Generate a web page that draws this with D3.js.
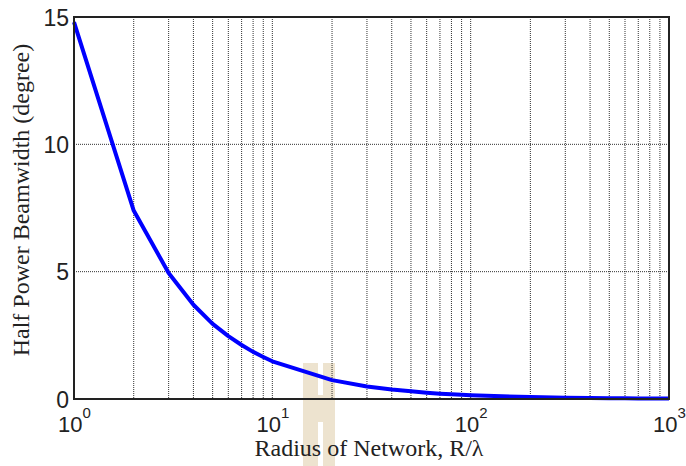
<!DOCTYPE html>
<html><head><meta charset="utf-8">
<script src="https://cdn.jsdelivr.net/npm/d3@7/dist/d3.min.js"></script>
<style>body{margin:0;background:#fff}svg{display:block}
.sans{font-family:"Liberation Sans",Arial,sans-serif}
.serif{font-family:"Liberation Serif","Times New Roman",serif}
</style>
</head><body><svg id="c" width="686" height="466"></svg>
<script>
const radius = [1,2,3,4,5,6,7,8,9,10,20,30,40,50,60,70,80,90,100,200,300,400,500,600,700,800,900,1000];
const beamwidth = [14.8,7.4,4.95,3.7,2.95,2.47,2.12,1.85,1.65,1.48,0.74,0.49,0.37,0.30,0.25,0.21,0.185,0.165,0.148,0.074,0.049,0.037,0.03,0.025,0.021,0.018,0.016,0.015];
const yTicks = [0,5,10,15];
const xTickExps = [0,1,2,3];
const xLabel = "Radius of Network, R/λ";
const yLabel = "Half Power Beamwidth (degree)";

const svg = d3.select("#c");
const L=74, R=669, T=17, B=399;
const x = d3.scaleLog().domain([1,1000]).range([L,R]);
const y = d3.scaleLinear().domain([0,15]).range([B,T]);

// watermark
const wm = svg.append("g").attr("fill","#ede3cf");
wm.append("rect").attr("x",303).attr("y",363).attr("width",15).attr("height",103);
wm.append("rect").attr("x",323).attr("y",363).attr("width",12).attr("height",103);
wm.append("rect").attr("x",303).attr("y",395).attr("width",32).attr("height",27);

// vertical grid
const minor = [];
for (let e=0;e<3;e++) for (let m=1;m<10;m++) minor.push(m*Math.pow(10,e));
svg.append("g").selectAll("line").data(minor.filter(v=>v>1)).join("line")
  .attr("x1",d=>x(d)).attr("x2",d=>x(d)).attr("y1",T).attr("y2",B)
  .attr("stroke","#000").attr("stroke-width",1).attr("stroke-dasharray","1,1").attr("opacity",0.8);
// horizontal grid
svg.append("g").selectAll("line").data(yTicks.filter(v=>v>0&&v<15)).join("line")
  .attr("x1",L).attr("x2",R).attr("y1",d=>y(d)).attr("y2",d=>y(d))
  .attr("stroke","#000").attr("stroke-width",1).attr("stroke-dasharray","1,1").attr("opacity",0.8);

// line
const line = d3.line().x((d,i)=>x(radius[i])).y(d=>y(d));
svg.append("path").datum(beamwidth).attr("d",line).attr("fill","none")
  .attr("stroke","#0000ff").attr("stroke-width",4).attr("stroke-linejoin","round");

// box
svg.append("rect").attr("x",L).attr("y",T).attr("width",R-L).attr("height",B-T)
  .attr("fill","none").attr("stroke","#222").attr("stroke-width",2);

// y axis
const yAxis = d3.axisLeft(y).tickValues(yTicks).tickSize(0).tickPadding(5);
const gy = svg.append("g").attr("transform",`translate(${L},0)`).call(yAxis);
gy.select(".domain").remove();
gy.attr("font-family",null).attr("font-size",null);
gy.selectAll("text").attr("class","sans").attr("font-size",23).attr("fill","#222").attr("dy","0.36em");

// x axis with superscripts
const xAxis = d3.axisBottom(x).tickValues(xTickExps.map(e=>Math.pow(10,e))).tickSize(0).tickFormat("");
const gx = svg.append("g").attr("transform",`translate(0,${B})`).call(xAxis);
gx.select(".domain").remove();
gx.attr("font-family",null).attr("font-size",null);
gx.selectAll(".tick").each(function(d,i){
  const t = d3.select(this).append("text").attr("class","sans").attr("y",33).attr("fill","#222")
    .attr("font-size",22).attr("text-anchor","middle");
  t.append("tspan").text("10");
  t.append("tspan").attr("dy",-14).attr("font-size",15).text(xTickExps[i]);
});

// labels
svg.append("text").attr("class","serif").attr("x",369).attr("y",456).attr("text-anchor","middle")
  .attr("font-size",24).attr("fill","#222").text(xLabel);
svg.append("text").attr("class","serif").attr("transform","translate(29,200) rotate(-90)").attr("text-anchor","middle")
  .attr("font-size",24).attr("fill","#222").text(yLabel);
</script></body></html>
